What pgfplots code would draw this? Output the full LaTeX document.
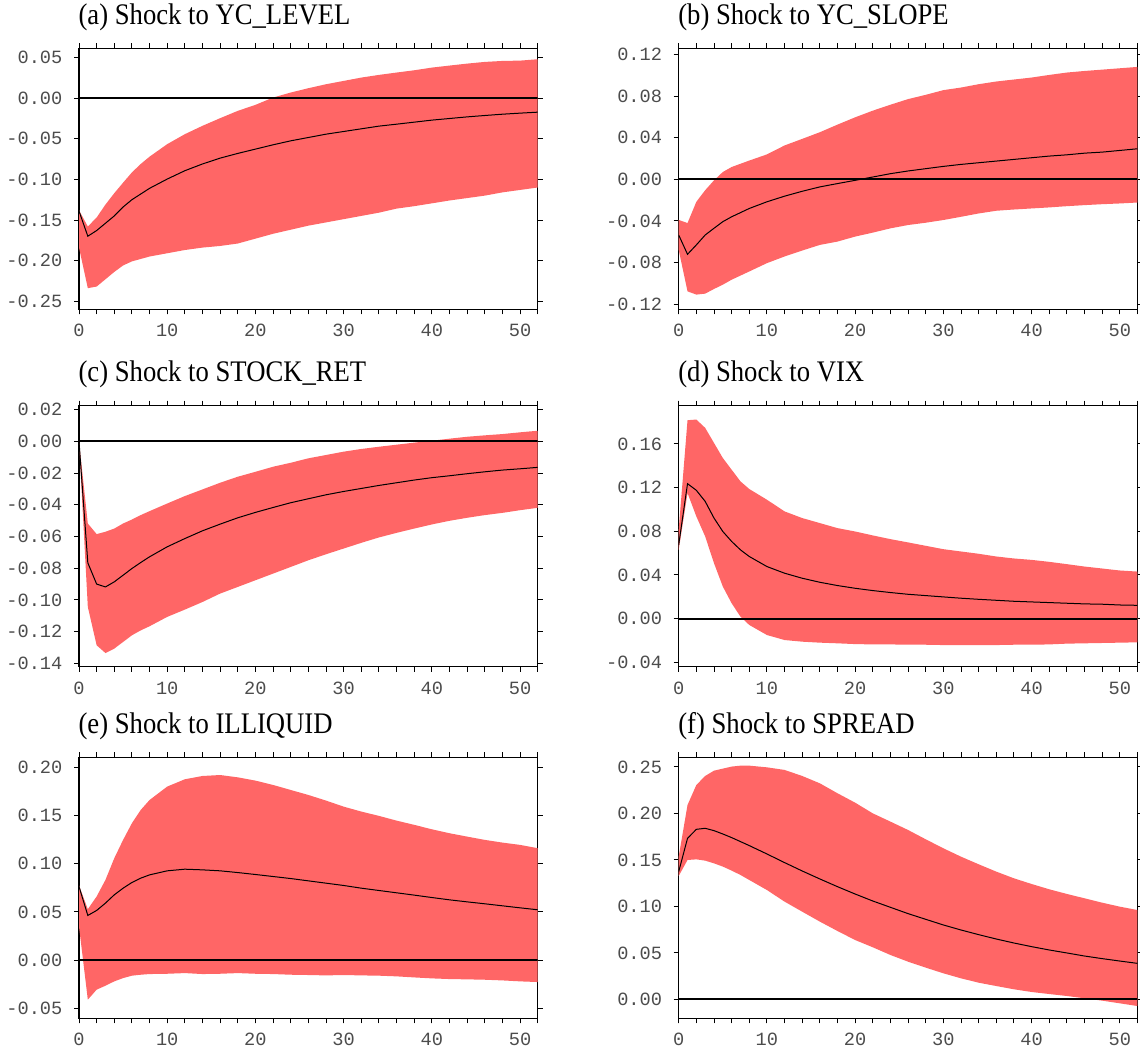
\documentclass[border=0pt]{standalone}
\usepackage{graphicx}
\usepackage{pgfplots}
\pgfplotsset{compat=1.18}
\usepackage{pgfplotstable}
\usepgfplotslibrary{fillbetween}
\usepackage{fontspec}
\setmainfont{Liberation Serif}
\setmonofont{Liberation Mono}
\definecolor{bandred}{RGB}{255,102,102}

\pgfplotstableread{
x irf up lo
0 -0.139 -0.138 -0.184
1 -0.170 -0.158 -0.234
2 -0.163 -0.147 -0.232
3 -0.154 -0.131 -0.223
4 -0.145 -0.117 -0.214
5 -0.134 -0.104 -0.206
6 -0.125 -0.0914 -0.201
7 -0.118 -0.081 -0.198
8 -0.111 -0.072 -0.195
10 -0.0996 -0.0566 -0.191
12 -0.0893 -0.0443 -0.187
14 -0.081 -0.034 -0.184
16 -0.0738 -0.0246 -0.182
18 -0.068 -0.0156 -0.179
20 -0.0627 -0.0082 -0.173
22 -0.0574 0.0008 -0.167
24 -0.0525 0.007 -0.162
26 -0.0484 0.0123 -0.157
28 -0.0443 0.0172 -0.153
30 -0.041 0.0213 -0.149
32 -0.0377 0.0254 -0.145
34 -0.0344 0.0287 -0.141
36 -0.032 0.0316 -0.136
38 -0.0295 0.0344 -0.133
40 -0.027 0.0377 -0.1295
42 -0.025 0.0402 -0.126
44 -0.023 0.0426 -0.123
46 -0.0213 0.0447 -0.120
48 -0.0197 0.0459 -0.116
50 -0.0184 0.0463 -0.113
52 -0.0172 0.048 -0.110
}\tabA

\pgfplotstableread{
x irf up lo
0 -0.0535 -0.039 -0.0678
1 -0.072 -0.042 -0.1076
2 -0.063 -0.0216 -0.1107
3 -0.0535 -0.0105 -0.1098
4 -0.047 -0.001 -0.1053
5 -0.0407 0.007 -0.1012
6 -0.036 0.0118 -0.0964
8 -0.028 0.018 -0.0885
10 -0.0216 0.0239 -0.0805
12 -0.0162 0.0325 -0.0741
14 -0.0115 0.0388 -0.0684
16 -0.0073 0.0452 -0.063
18 -0.0041 0.0525 -0.0598
20 -0.001 0.0595 -0.055
22 0.0022 0.0659 -0.0512
24 0.0054 0.0716 -0.0471
26 0.008 0.077 -0.0439
28 0.0102 0.0811 -0.0417
30 0.0124 0.0856 -0.0391
32 0.0143 0.0881 -0.036
34 0.0159 0.0913 -0.0328
36 0.0175 0.0939 -0.0302
38 0.0191 0.0958 -0.029
40 0.0207 0.0977 -0.028
42 0.0223 0.1002 -0.027
44 0.0235 0.1025 -0.0258
46 0.0251 0.104 -0.0248
48 0.0261 0.1053 -0.0239
50 0.0277 0.1066 -0.0232
52 0.0293 0.1079 -0.0223
}\tabB

\pgfplotstableread{
x irf up lo
0 0 0 0
1 -0.0766 -0.0518 -0.1044
2 -0.090 -0.0585 -0.1286
3 -0.0918 -0.057 -0.1335
4 -0.0886 -0.055 -0.1307
5 -0.0844 -0.0518 -0.1265
6 -0.0802 -0.0493 -0.1223
7 -0.0764 -0.0465 -0.1192
8 -0.0728 -0.044 -0.1166
10 -0.0665 -0.0392 -0.1107
12 -0.0613 -0.0345 -0.1061
14 -0.0564 -0.0303 -0.1013
16 -0.0522 -0.0261 -0.096
18 -0.0482 -0.0223 -0.0918
20 -0.0448 -0.0192 -0.0876
22 -0.0417 -0.016 -0.0834
24 -0.0387 -0.0135 -0.0792
26 -0.0362 -0.0107 -0.075
28 -0.0337 -0.0086 -0.0712
30 -0.0316 -0.0065 -0.0676
32 -0.0297 -0.0048 -0.064
34 -0.0278 -0.0034 -0.0606
36 -0.0261 -0.0021 -0.0577
38 -0.0244 -0.0008 -0.055
40 -0.0229 0.0004 -0.0524
42 -0.0217 0.0017 -0.0501
44 -0.0204 0.0029 -0.0482
46 -0.0192 0.0038 -0.0465
48 -0.0181 0.0046 -0.0451
50 -0.0173 0.0057 -0.0434
52 -0.0164 0.0067 -0.0419
}\tabC

\pgfplotstableread{
x irf up lo
0 0.0676 0.0814 0.063
1 0.1236 0.1817 0.115
2 0.1175 0.1823 0.0936
3 0.1074 0.1747 0.0753
4 0.0921 0.1609 0.0508
5 0.0798 0.1471 0.0294
6 0.0707 0.1364 0.0141
7 0.063 0.1257 0.0018
8 0.0569 0.1187 -0.0058
10 0.0477 0.1089 -0.015
12 0.0416 0.0982 -0.0196
14 0.037 0.0921 -0.0211
16 0.0333 0.0875 -0.022
18 0.0303 0.0829 -0.0226
20 0.0278 0.0798 -0.0233
22 0.0257 0.0762 -0.0236
24 0.0239 0.0728 -0.0236
26 0.0223 0.0698 -0.0239
28 0.0211 0.0667 -0.0239
30 0.0199 0.0636 -0.0242
32 0.0187 0.0615 -0.0242
34 0.0177 0.0594 -0.0242
36 0.0168 0.0569 -0.0242
38 0.0159 0.0551 -0.0239
40 0.0153 0.0538 -0.0239
42 0.0147 0.052 -0.0236
44 0.0141 0.0499 -0.0229
46 0.0135 0.0477 -0.0226
48 0.0132 0.0459 -0.0223
50 0.0125 0.0441 -0.022
52 0.0122 0.0431 -0.0217
}\tabD

\pgfplotstableread{
x irf up lo
0 0.0763 0.0775 0.0349
1 0.0463 0.0528 -0.0411
2 0.0515 0.066 -0.0307
3 0.0591 0.0832 -0.0266
4 0.0677 0.1057 -0.0221
5 0.0746 0.1247 -0.0187
6 0.0805 0.142 -0.0162
7 0.085 0.1558 -0.0152
8 0.0884 0.1661 -0.0145
10 0.0926 0.18 -0.0142
12 0.0943 0.1876 -0.0135
14 0.0936 0.191 -0.0145
16 0.0926 0.192 -0.0142
18 0.0908 0.1896 -0.0135
20 0.0888 0.1862 -0.0142
22 0.0867 0.1817 -0.0145
24 0.0846 0.1765 -0.0152
26 0.0822 0.1713 -0.0155
28 0.0798 0.1655 -0.0159
30 0.0774 0.1592 -0.0155
32 0.0746 0.1541 -0.0159
34 0.0722 0.1496 -0.0162
36 0.0698 0.1447 -0.0169
38 0.0674 0.1403 -0.018
40 0.0649 0.1357 -0.019
42 0.0625 0.1316 -0.0197
44 0.0604 0.1281 -0.020
46 0.0584 0.1247 -0.0204
48 0.0563 0.1219 -0.0211
50 0.0542 0.1195 -0.0221
52 0.0522 0.1161 -0.0228
}\tabE

\pgfplotstableread{
x irf up lo
0 0.1374 0.1535 0.1327
1 0.1732 0.2091 0.1499
2 0.1829 0.2306 0.1506
3 0.184 0.2403 0.1492
4 0.1815 0.246 0.1463
5 0.1779 0.2482 0.1428
6 0.174 0.2504 0.1385
7 0.1697 0.2514 0.1338
8 0.1654 0.2514 0.1284
10 0.1564 0.2496 0.1176
12 0.1471 0.2468 0.1051
14 0.1381 0.2403 0.0943
16 0.1295 0.2324 0.0836
18 0.1212 0.2217 0.0735
20 0.1133 0.2116 0.0638
22 0.1058 0.2001 0.056
24 0.099 0.1912 0.0477
26 0.0922 0.1822 0.0405
28 0.0861 0.1722 0.0341
30 0.08 0.1625 0.028
32 0.0746 0.1535 0.0226
34 0.0696 0.1453 0.0179
36 0.0649 0.1374 0.0143
38 0.0606 0.1302 0.0108
40 0.0567 0.1241 0.0079
42 0.0531 0.1184 0.0057
44 0.0499 0.1134 0.0036
46 0.0466 0.1087 0.0011
48 0.0438 0.104 -0.0014
50 0.0412 0.0997 -0.0043
52 0.0387 0.0961 -0.0072
}\tabF

\pgfplotsset{
  irf/.style={
    width=344.025pt, height=195.75pt, scale only axis,
    anchor=south west,
    xmin=0, xmax=52,
    xtick={0,10,...,50}, minor xtick={0,2,...,52},
    tick align=outside,
    major tick length=3.75pt, minor tick length=3.75pt,
    axis line style={line width=0.85pt},
    every tick/.style={black, line width=0.7pt},
    every minor tick/.style={black, line width=0.7pt},
    ticklabel style={font=\ttfamily\fontsize{14}{14}\selectfont, text=black!70, inner sep=0pt},
    yticklabel style={anchor=east, xshift=-8.5pt,
      /pgf/number format/.cd, fixed, fixed zerofill, precision=2, assume math mode=true},
    xticklabel style={anchor=north, yshift=-7.3pt, /pgf/number format/assume math mode=true},
    title style={anchor=base west, at={(0,1)}, yshift=12pt, xshift=-0.5pt,
      font=\fontsize{20}{20}\selectfont, inner sep=0pt},
  },
  band/.style={fill=bandred, draw=none},
}

\newcommand{\ttl}[1]{\scalebox{1}[1.12]{#1}}

\newcommand{\irfpanel}[1]{%
  \addplot[name path=U, draw=none, forget plot] table[x=x, y=up] {#1};
  \addplot[name path=L, draw=none, forget plot] table[x=x, y=lo] {#1};
  \addplot[band, forget plot] fill between[of=U and L];
  \addplot[black, line width=1.35pt, forget plot] coordinates {(0,0) (52,0)};
  \addplot[black, line width=0.75pt, forget plot] table[x=x, y=irf] {#1};
}

\begin{document}
\begin{tikzpicture}

\begin{axis}[irf, at={(59.25pt,554.025pt)},
  ymin=-0.260, ymax=0.0615,
  ytick={-0.25,-0.2,-0.15,-0.1,-0.05,0,0.05},
  title={\ttl{(a) Shock to YC\_LEVEL}}]
\irfpanel{\tabA}
\end{axis}

\begin{axis}[irf, at={(509.025pt,554.025pt)},
  ymin=-0.1248, ymax=0.1258,
  ytick={-0.12,-0.08,-0.04,0,0.04,0.08,0.12},
  title={\ttl{(b) Shock to YC\_SLOPE}}]
\irfpanel{\tabB}
\end{axis}

\begin{axis}[irf, at={(59.25pt,285.975pt)},
  ymin=-0.1421, ymax=0.0225,
  ytick={-0.14,-0.12,-0.1,-0.08,-0.06,-0.04,-0.02,0,0.02},
  title={\ttl{(c) Shock to STOCK\_RET}}]
\irfpanel{\tabC}
\end{axis}

\begin{axis}[irf, at={(509.025pt,285.975pt)},
  ymin=-0.044, ymax=0.195,
  ytick={-0.04,0,0.04,0.08,0.12,0.16},
  title={\ttl{(d) Shock to VIX}}]
\irfpanel{\tabD}
\end{axis}

\begin{axis}[irf, at={(59.25pt,22.275pt)},
  ymin=-0.0604, ymax=0.2104,
  ytick={-0.05,0,0.05,0.1,0.15,0.2},
  title={\ttl{(e) Shock to ILLIQUID}}]
\irfpanel{\tabE}
\end{axis}

\begin{axis}[irf, at={(509.025pt,22.275pt)},
  ymin=-0.0204, ymax=0.2604,
  ytick={0,0.05,0.1,0.15,0.2,0.25},
  title={\ttl{(f) Shock to SPREAD}}]
\irfpanel{\tabF}
\end{axis}

\pgfresetboundingbox
\useasboundingbox (0,0) rectangle (855pt,786pt);
\end{tikzpicture}
\end{document}
